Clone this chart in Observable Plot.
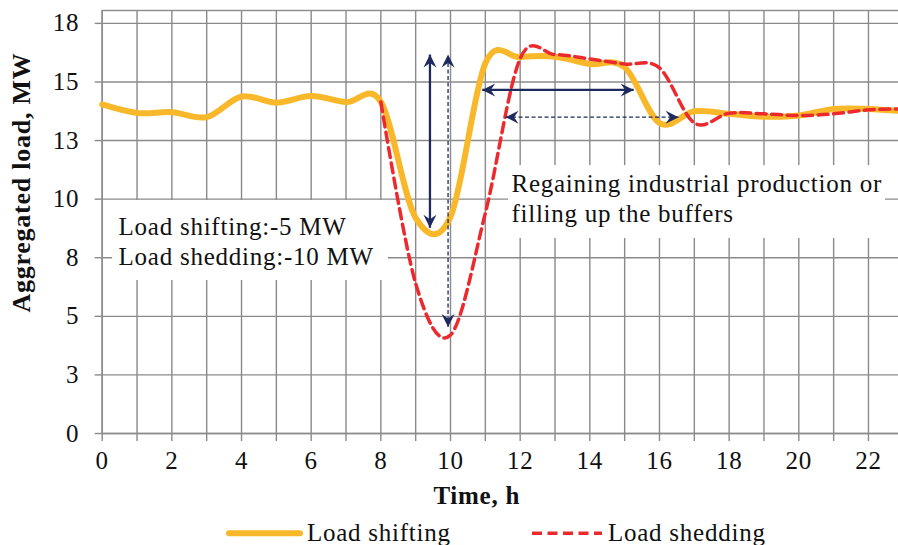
<!DOCTYPE html>
<html>
<head>
<meta charset="utf-8">
<script src="https://cdn.jsdelivr.net/npm/d3@7"></script>
<script src="https://cdn.jsdelivr.net/npm/@observablehq/plot@0.6"></script>
<style>
html, body { margin: 0; padding: 0; background: #fff; overflow: hidden; width: 898px; height: 545px; }
#chart svg { display: block; overflow: hidden; }
#legend { display: block; }
</style>
</head>
<body>
<div id="chart"></div>
<script>
// ---------- data ----------
const hours = d3.range(0, 24);
const loadShifting = [14.04, 13.68, 13.71, 13.50, 14.38, 14.12, 14.40, 14.14, 14.15, 9.20, 9.25, 15.80,
                      16.06, 16.08, 15.77, 15.63, 13.25, 13.75, 13.64, 13.52, 13.57, 13.85, 13.85, 13.75];
const sheddingHours = d3.range(8, 24);
const loadShedding = [14.15, 6.40, 4.20, 9.40, 16.00, 16.17, 15.98, 15.77, 15.60, 13.25, 13.67, 13.64,
                      13.57, 13.64, 13.81, 13.85];

const seriesNames = ["Load shifting", "Load shedding"];
const yTicks = [0, 2.5, 5, 7.5, 10, 12.5, 15, 17.5];
const yTickLabels = ["0", "3", "5", "8", "10", "13", "15", "18"];
const xTicks = d3.range(0, 24);
const xTickLabels = xTicks.map(h => (h % 2 === 0 ? String(h) : ""));
const xTitle = "Time, h";
const yTitle = "Aggregated load, MW";

// annotation arrows (data units): start -> end
const arrowX1 = [9.41, 9.93, 10.91, 11.58];
const arrowY1 = [8.78, 4.54, 14.66, 13.50];
const arrowX2 = [9.41, 9.93, 15.26, 16.55];
const arrowY2 = [16.17, 16.17, 14.66, 13.50];
const arrowDashed = [false, true, false, true];

// annotation text blocks (anchor = start of last baseline)
const noteText = ["Load shifting:-5 MW\nLoad shedding:-10 MW", "Regaining industrial production or\nfilling up the buffers"];
const noteX = [0.47, 11.75];
const noteY = [7.21, 9.01];
// white boxes behind the notes
const boxX1 = [0.30, 11.67];
const boxX2 = [8.22, 22.49];
const boxY1 = [6.53, 8.32];
const boxY2 = [9.94, 11.43];

// ---------- tables ----------
const shiftingData = hours.map((h, i) => ({hour: h, load: loadShifting[i]}));
const sheddingData = sheddingHours.map((h, i) => ({hour: h, load: loadShedding[i]}));
const arrows = arrowX1.map((_, i) => ({x1: arrowX1[i], y1: arrowY1[i], x2: arrowX2[i], y2: arrowY2[i], dashed: arrowDashed[i]}));
const notes = noteText.map((t, i) => ({text: t, x: noteX[i], y: noteY[i]}));
const boxes = boxX1.map((_, i) => ({x1: boxX1[i], x2: boxX2[i], y1: boxY1[i], y2: boxY2[i]}));

function dirOf(fx, fy, tx, ty) {
  if (tx !== fx) return tx > fx ? "right" : "left";
  return ty > fy ? "up" : "down";
}
const heads = [];
arrows.forEach(a => {
  heads.push({x: a.x2, y: a.y2, dir: dirOf(a.x1, a.y1, a.x2, a.y2)});
  heads.push({x: a.x1, y: a.y1, dir: dirOf(a.x2, a.y2, a.x1, a.y1)});
});

// stealth arrowhead symbols with tip at the origin
function headSymbol(dir) {
  const pts = [[0, 0], [-6.5, 13], [0, 8.5], [6.5, 13]];
  const rot = {up: 0, right: 90, down: 180, left: 270}[dir] * Math.PI / 180;
  const c = Math.cos(rot), s = Math.sin(rot);
  const p = pts.map(([x, y]) => [x * c - y * s, x * s + y * c]);
  return {draw(ctx) {
    ctx.moveTo(p[0][0], p[0][1]);
    for (let i = 1; i < p.length; i++) ctx.lineTo(p[i][0], p[i][1]);
    ctx.closePath();
  }};
}

const gridColor = "#8a8a8a";
const orange = "#F9B82A";
const red = "#EC2A2E";
const navy = "#1E2A5E";
const font = "'Liberation Serif', 'Times New Roman', serif";
const ls = "0.75px";

const plot = Plot.plot({
  width: 898,
  height: 510,
  marginLeft: 101.7,
  marginRight: -4.8,
  marginTop: 10,
  marginBottom: 77,
  x: {domain: [0, 23]},
  y: {domain: [0, 18.05]},
  style: {fontFamily: font, fontSize: "25px", color: "#111", background: "#fff", letterSpacing: ls},
  marks: [
    Plot.gridX(xTicks, {stroke: gridColor, strokeOpacity: 1, strokeWidth: 1.4}),
    Plot.gridY(yTicks, {stroke: gridColor, strokeOpacity: 1, strokeWidth: 1.4}),
    Plot.frame({stroke: gridColor, strokeWidth: 1.4}),
    Plot.rect(boxes, {x1: "x1", x2: "x2", y1: "y1", y2: "y2", fill: "#fff"}),
    Plot.line(shiftingData, {x: "hour", y: "load", stroke: orange, strokeWidth: 6, curve: "cardinal", strokeLinecap: "round", strokeLinejoin: "round"}),
    Plot.line(sheddingData, {x: "hour", y: "load", stroke: red, strokeWidth: 3.5, curve: "cardinal", strokeDasharray: "10,5.5"}),
    Plot.link(arrows.filter(a => !a.dashed), {x1: "x1", y1: "y1", x2: "x2", y2: "y2", stroke: navy, strokeWidth: 2.3}),
    Plot.link(arrows.filter(a => a.dashed), {x1: "x1", y1: "y1", x2: "x2", y2: "y2", stroke: navy, strokeWidth: 1.3, strokeDasharray: "4,2.5"}),
    ...["up", "down", "left", "right"].map(d =>
      Plot.dot(heads.filter(h => h.dir === d), {x: "x", y: "y", r: 5, symbol: headSymbol(d), fill: navy, stroke: "none"})),
    Plot.text(notes, {x: "x", y: "y", text: "text", textAnchor: "start", lineAnchor: "bottom", lineHeight: 1.2, fontSize: 25, fill: "#111"}),
    Plot.axisX(xTicks, {tickFormat: (d) => xTickLabels[xTicks.indexOf(d)], tickSize: 8, tickPadding: 10, stroke: gridColor, strokeWidth: 1.4, fill: "#111", fontSize: 25, label: null}),
    Plot.axisY(yTicks, {tickFormat: (d) => yTickLabels[yTicks.indexOf(d)], tickSize: 7, tickPadding: 16, stroke: gridColor, strokeWidth: 1.4, fill: "#111", fontSize: 25, label: null}),
    Plot.text([xTitle], {frameAnchor: "bottom", text: d => d, textAnchor: "middle", dx: -26, dy: 70, fontWeight: "bold", fontSize: 25, fill: "#111"}),
    Plot.text([yTitle], {frameAnchor: "left", text: d => d, textAnchor: "middle", lineAnchor: "middle", rotate: -90, dx: -81, dy: -39.5, fontWeight: "bold", fontSize: 26, fill: "#111"})
  ]
});
plot.style.overflow = "hidden";
document.getElementById("chart").appendChild(plot);

// ---------- legend (below the SVG) ----------
const legend = d3.select("#chart").append("svg")
  .attr("id", "legend")
  .attr("width", 898).attr("height", 35)
  .style("font-family", font).style("font-size", "25px").style("letter-spacing", ls);
const legendItems = [
  {name: seriesNames[0], color: orange, width: 6, dash: null, x0: 229, x1: 300, tx: 307},
  {name: seriesNames[1], color: red, width: 3.5, dash: "10,5.5", x0: 532, x1: 602, tx: 608}
];
legendItems.forEach(it => {
  legend.append("line").attr("x1", it.x0).attr("x2", it.x1).attr("y1", 23.3).attr("y2", 23.3)
    .attr("stroke", it.color).attr("stroke-width", it.width)
    .attr("stroke-linecap", it.dash ? "butt" : "round")
    .attr("stroke-dasharray", it.dash);
  legend.append("text").attr("x", it.tx).attr("y", 31).attr("fill", "#111").text(it.name);
});
</script>
</body>
</html>
